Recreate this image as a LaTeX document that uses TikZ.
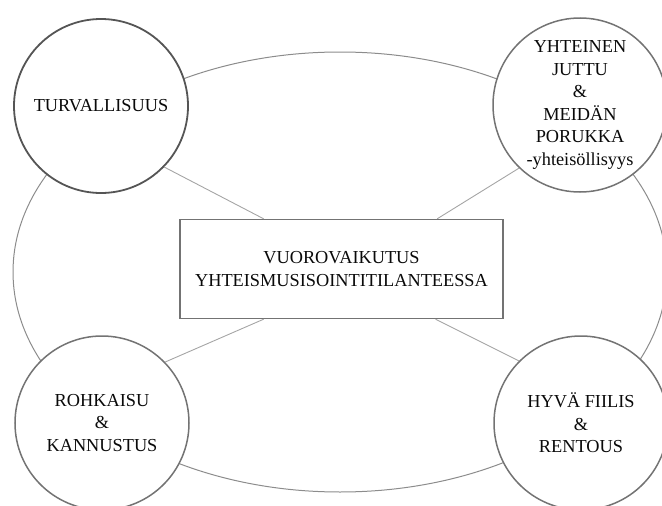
\documentclass[tikz,border=0pt]{standalone}
\usepackage{fontspec}
\setmainfont{Liberation Serif}
\usepackage{xcolor}
\usepackage{tikz}
\usetikzlibrary{calc}
\definecolor{RimDark}{RGB}{85, 85, 85}
\definecolor{RimGrey}{RGB}{115, 115, 115}
\definecolor{RingGrey}{RGB}{140, 140, 140}
\definecolor{LinkGrey}{RGB}{165, 165, 165}
\definecolor{InkBlack}{RGB}{10, 10, 10}

\begin{document}
\begin{tikzpicture}[
    x=1pt, y=-1pt,
    font=\fontsize{18.3}{22.6}\selectfont,
    theme/.style={circle, draw=#1, fill=white, line width=1.5pt, minimum size=174pt, inner sep=0pt, align=center, text=InkBlack},
    core/.style={rectangle, draw=RimGrey, fill=white, line width=1.4pt, minimum width=323pt, minimum height=99pt, align=center, text=InkBlack},
    link/.style={draw=LinkGrey, line width=0.9pt},
    ring/.style={draw=RingGrey, line width=1pt}
]
    \useasboundingbox (0, 0) rectangle (662, 506);
    \clip (0, 0) rectangle (662, 506);

    % Outer ring behind the themes
    \draw[ring] (340, 272) ellipse [x radius=327, y radius=220];

    % Centre box
    \node[core] (core) at (341.5, 269) {VUOROVAIKUTUS\\YHTEISMUSISOINTITILANTEESSA};

    % Theme circles
    \node[theme=RimDark, line width=1.8pt] (safe) at (101, 106) {TURVALLISUUS};
    \node[theme=RimGrey] (group) at (580, 105) {YHTEINEN\\JUTTU\\\&\\MEIDÄN\\PORUKKA\\-yhteisöllisyys};
    \node[theme=RimGrey] (cheer) at (102, 423) {ROHKAISU\\\&\\KANNUSTUS};
    \node[theme=RimGrey] (mood) at (581, 423) {HYVÄ FIILIS\\\&\\RENTOUS};

    % Links from box to themes
    \draw[link] ($(core.north west)!0.26!(core.north east)$) -- (safe.316);
    \draw[link] ($(core.north west)!0.795!(core.north east)$) -- (group.226);
    \draw[link] ($(core.south west)!0.26!(core.south east)$) -- (cheer.44);
    \draw[link] ($(core.south west)!0.79!(core.south east)$) -- (mood.135);

\end{tikzpicture}
\end{document}
